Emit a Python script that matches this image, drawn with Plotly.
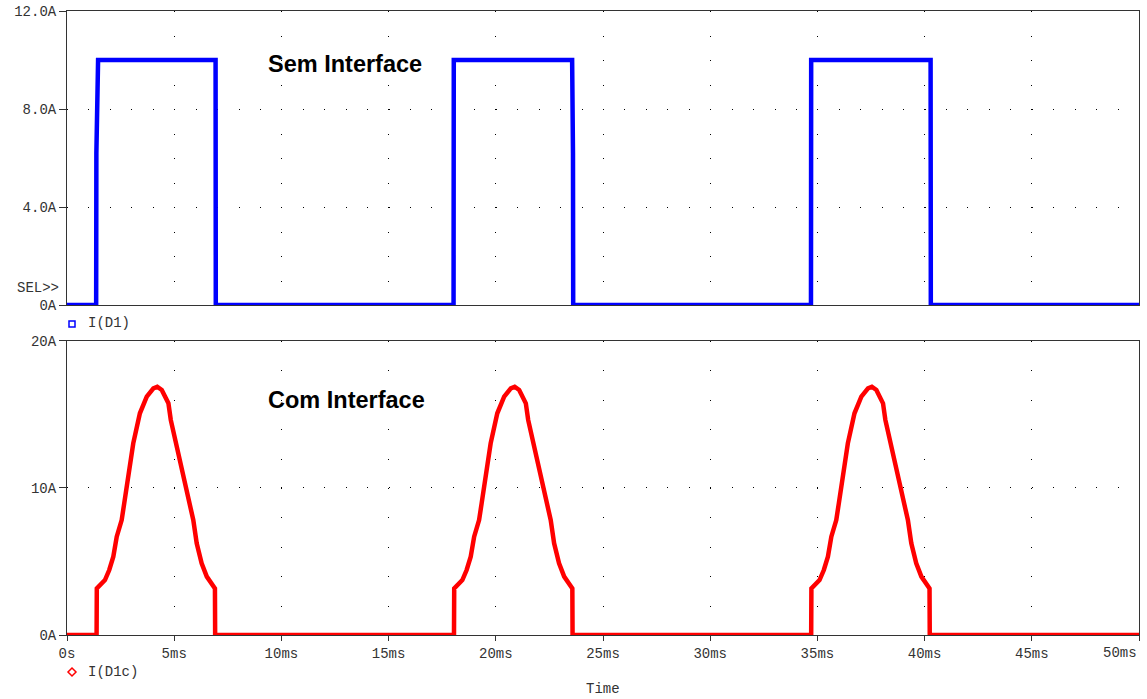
import plotly.graph_objects as go

# ---- data (time in ms, current in A) ----
t_d1 = [0, 1.36, 1.37, 1.45, 6.93, 6.94, 18.03, 18.04, 23.56, 23.60, 23.61, 34.70, 34.71, 40.28, 40.29, 50]
i_d1 = [0, 0, 6.2, 10, 10, 0, 0, 10, 10, 6.2, 0, 0, 10, 10, 0, 0]

t_d1c = [0,
         1.38, 1.39, 1.54, 1.77, 1.97, 2.16, 2.32, 2.55, 2.67, 2.91, 3.09, 3.40, 3.72, 4.03, 4.21, 4.42, 4.73, 4.84, 5.19, 5.55, 5.89, 6.05, 6.28, 6.52, 6.75, 6.90, 6.91,
         18.05, 18.06, 18.21, 18.44, 18.64, 18.83, 18.99, 19.22, 19.34, 19.58, 19.76, 20.07, 20.39, 20.70, 20.88, 21.09, 21.40, 21.51, 21.86, 22.22, 22.56, 22.72, 22.95, 23.19, 23.42, 23.57, 23.58,
         34.71, 34.72, 34.87, 35.10, 35.30, 35.49, 35.65, 35.88, 36.00, 36.24, 36.42, 36.73, 37.05, 37.36, 37.54, 37.75, 38.06, 38.17, 38.52, 38.88, 39.22, 39.38, 39.61, 39.85, 40.08, 40.23, 40.24,
         50]
i_d1c = [0,
         0, 3.17, 3.40, 3.74, 4.42, 5.33, 6.69, 7.82, 8.96, 11.22, 13.04, 15.08, 16.21, 16.78, 16.89, 16.67, 15.76, 14.63, 12.36, 10.09, 7.82, 6.24, 4.88, 3.97, 3.40, 3.17, 0,
         0, 3.17, 3.40, 3.74, 4.42, 5.33, 6.69, 7.82, 8.96, 11.22, 13.04, 15.08, 16.21, 16.78, 16.89, 16.67, 15.76, 14.63, 12.36, 10.09, 7.82, 6.24, 4.88, 3.97, 3.40, 3.17, 0,
         0, 3.17, 3.40, 3.74, 4.42, 5.33, 6.69, 7.82, 8.96, 11.22, 13.04, 15.08, 16.21, 16.78, 16.89, 16.67, 15.76, 14.63, 12.36, 10.09, 7.82, 6.24, 4.88, 3.97, 3.40, 3.17, 0,
         0]

x_ticks = [0, 5, 10, 15, 20, 25, 30, 35, 40, 45, 50]
x_labels = ["0s", "5ms", "10ms", "15ms", "20ms", "25ms", "30ms", "35ms", "40ms", "45ms", ""]
last_x_label = "50ms"
top_ticks = [0, 4, 8, 12]
top_labels = ["0A", "4.0A", "8.0A", "12.0A"]
bot_ticks = [0, 10, 20]
bot_labels = ["0A", "10A", "20A"]

MONO = "Liberation Mono, Courier New, monospace"
SANS = "Liberation Sans, Arial, sans-serif"

fig = go.Figure()
fig.add_trace(go.Scatter(x=t_d1, y=i_d1, mode="lines", line=dict(color="#0000FF", width=4.5),
                         xaxis="x", yaxis="y", cliponaxis=False, showlegend=False))
fig.add_trace(go.Scatter(x=t_d1c, y=i_d1c, mode="lines", line=dict(color="#FF0000", width=4.5),
                         xaxis="x2", yaxis="y2", cliponaxis=False, showlegend=False))

axis_common = dict(showline=True, mirror=True, linecolor="#333", linewidth=1, automargin=False,
                   zeroline=False, gridcolor="#000000", gridwidth=1)

fig.update_layout(
    width=1147, height=699,
    margin=dict(l=67, r=8, t=11, b=64, autoexpand=False),
    paper_bgcolor="white", plot_bgcolor="white",
    xaxis=dict(domain=[0, 1], range=[0, 50], anchor="y", tickvals=x_ticks, showticklabels=False,
               ticks="", griddash="1px,23.5px", **axis_common),
    yaxis=dict(domain=[0.5288, 1], range=[0, 12], anchor="x", tickvals=top_ticks, ticktext=top_labels,
               ticks="outside", ticklen=7, tickcolor="#333",
               tickfont=dict(family=MONO, size=14, color="#333"),
               griddash="1px,20.44px", **axis_common),
    xaxis2=dict(domain=[0, 1], range=[0, 50], anchor="y2", tickvals=x_ticks, ticktext=x_labels,
                ticks="outside", ticklen=5, tickcolor="#333",
                tickfont=dict(family=MONO, size=14, color="#333"),
                griddash="1px,28.4px", **axis_common),
    yaxis2=dict(domain=[0, 0.4712], range=[0, 20], anchor="x2", tickvals=bot_ticks, ticktext=bot_labels,
                ticks="outside", ticklen=7, tickcolor="#333",
                tickfont=dict(family=MONO, size=14, color="#333"),
                griddash="1px,20.44px", **axis_common),
)

def px_x(X):
    return (X - 67) / 1072

def px_y(Y):
    return (635 - Y) / 624

annotations = [
    dict(text="<b>Sem Interface</b>", x=px_x(266), y=px_y(64), xanchor="left", yanchor="middle",
         font=dict(family=SANS, size=23.5, color="black")),
    dict(text="<b>Com Interface</b>", x=px_x(266), y=px_y(400), xanchor="left", yanchor="middle",
         font=dict(family=SANS, size=23.5, color="black")),
    dict(text="SEL>>", x=px_x(61), y=px_y(288), xanchor="right", yanchor="middle",
         font=dict(family=MONO, size=14, color="#333")),
    dict(text="I(D1)", x=px_x(86), y=px_y(323), xanchor="left", yanchor="middle",
         font=dict(family=MONO, size=14, color="#333")),
    dict(text="I(D1c)", x=px_x(86), y=px_y(672), xanchor="left", yanchor="middle",
         font=dict(family=MONO, size=14, color="#333")),
    dict(text="Time", x=px_x(603), y=px_y(689), xanchor="center", yanchor="middle",
         font=dict(family=MONO, size=14, color="#333")),
    dict(text=last_x_label, x=px_x(1139), y=px_y(653), xanchor="right", yanchor="middle",
         font=dict(family=MONO, size=14, color="#333")),
]
for a in annotations:
    a.update(xref="paper", yref="paper", showarrow=False)
fig.update_layout(annotations=annotations)

fig.update_layout(shapes=[
    dict(type="rect", xref="paper", yref="paper", xsizemode="pixel", ysizemode="pixel",
         xanchor=px_x(72), yanchor=px_y(324), x0=-3, x1=3, y0=-3, y1=3,
         line=dict(color="#0000FF", width=1.5), fillcolor="white"),
    dict(type="path", xref="paper", yref="paper", xsizemode="pixel", ysizemode="pixel",
         xanchor=px_x(72), yanchor=px_y(672), path="M0,4 L4,0 L0,-4 L-4,0 Z",
         line=dict(color="#FF0000", width=1.5), fillcolor="white"),
])

fig.write_html("out.html", config={"displayModeBar": False},
               post_script="document.body.style.margin='0';document.body.style.overflow='hidden';")
